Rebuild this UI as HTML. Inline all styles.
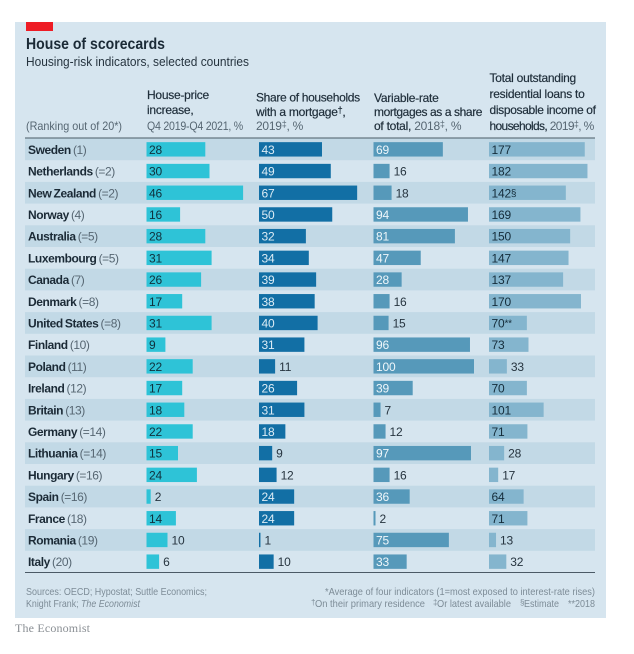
<!DOCTYPE html>
<html lang="en">
<head>
<meta charset="utf-8">
<title>House of scorecards</title>
<style>
html,body{margin:0;padding:0;background:#fff;width:634px;height:654px;overflow:hidden}
svg{display:block;font-family:"Liberation Sans",sans-serif}
.hd{font-size:12px;fill:#1f2e3a;stroke:#1f2e3a;stroke-width:.2;letter-spacing:-.25px}
.hl{font-weight:normal;fill:#566672;stroke:none}
.ft{font-size:10.500px;fill:#7d8c97}
</style>
</head>
<body>
<svg id="chart" xmlns="http://www.w3.org/2000/svg" width="634" height="654" viewBox="0 0 634 654">
  <rect x="15" y="22" width="591" height="596" fill="#d6e5ef"/>
  <rect x="26" y="22" width="27" height="9" fill="#ee1c25"/>
  <text x="26" y="49" font-size="16" font-weight="bold" fill="#1b2a36" textLength="139" lengthAdjust="spacingAndGlyphs">House of scorecards</text>
  <text x="26" y="66" font-size="13" fill="#26343f" textLength="223" lengthAdjust="spacingAndGlyphs">Housing-risk indicators, selected countries</text>

  <text x="26" y="130" font-size="12" fill="#566672" textLength="96" lengthAdjust="spacingAndGlyphs">(Ranking out of 20*)</text>

  <g class="hd">
    <text x="147" y="99">House-price</text>
    <text x="147" y="114">increase,</text>
    <text x="147" y="130" class="hl" textLength="96" lengthAdjust="spacingAndGlyphs">Q4 2019-Q4 2021, %</text>
  </g>
  <g class="hd">
    <text x="256" y="101.500" style="letter-spacing:-.33px">Share of households</text>
    <text x="256" y="116">with a mortgage<tspan font-size="9" dy="-3">†</tspan><tspan dy="3">,</tspan></text>
    <text x="256" y="130" class="hl">2019<tspan font-size="9" dy="-3">‡</tspan><tspan dy="3">, %</tspan></text>
  </g>
  <g class="hd">
    <text x="374" y="102">Variable-rate</text>
    <text x="374" y="116" style="letter-spacing:-.4px">mortgages as a share</text>
    <text x="374" y="130">of total, <tspan class="hl">2018<tspan font-size="9" dy="-3">‡</tspan><tspan dy="3">, %</tspan></tspan></text>
  </g>
  <g class="hd">
    <text x="489.500" y="82">Total outstanding</text>
    <text x="489.500" y="98">residential loans to</text>
    <text x="489.500" y="114" style="letter-spacing:-.33px">disposable income of</text>
    <text x="489.500" y="130" style="letter-spacing:-.65px">households, <tspan class="hl">2019<tspan font-size="9" dy="-3">‡</tspan><tspan dy="3">, %</tspan></tspan></text>
  </g>

  <g id="rows"></g>

  <line x1="25" x2="595" y1="138" y2="138" stroke="#4b5a66" stroke-width="1"/>
  <line x1="25" x2="595" y1="572.500" y2="572.500" stroke="#4b5a66" stroke-width="1"/>

  <g class="ft">
    <text x="26" y="595" textLength="181" lengthAdjust="spacingAndGlyphs">Sources: OECD; Hypostat; Suttle Economics;</text>
    <text x="26" y="607" textLength="114" lengthAdjust="spacingAndGlyphs">Knight Frank; <tspan font-style="italic">The Economist</tspan></text>
  </g>
  <g class="ft">
    <text x="595" y="595" text-anchor="end" textLength="270" lengthAdjust="spacingAndGlyphs">*Average of four indicators (1=most exposed to interest-rate rises)</text>
    <text x="311" y="605" font-size="8">†</text>
    <text x="315" y="607" textLength="110" lengthAdjust="spacingAndGlyphs">On their primary residence</text>
    <text x="433" y="605" font-size="8">‡</text>
    <text x="437" y="607" textLength="74" lengthAdjust="spacingAndGlyphs">Or latest available</text>
    <text x="520" y="605" font-size="8">§</text>
    <text x="524" y="607" textLength="35" lengthAdjust="spacingAndGlyphs">Estimate</text>
    <text x="568" y="607" textLength="27" lengthAdjust="spacingAndGlyphs">**2018</text>
  </g>
  <text x="15" y="632" font-family="'Liberation Serif',serif" font-size="12" fill="#8a8f94" textLength="75" lengthAdjust="spacing">The Economist</text>
</svg>
<script>
const countries = ["Sweden","Netherlands","New Zealand","Norway","Australia","Luxembourg","Canada","Denmark","United States","Finland","Poland","Ireland","Britain","Germany","Lithuania","Hungary","Spain","France","Romania","Italy"];
const ranks = ["1","=2","=2","4","=5","=5","7","=8","=8","10","11","12","13","=14","=14","=16","=16","18","19","20"];
const housePrice = [28,30,46,16,28,31,26,17,31,9,22,17,18,22,15,24,2,14,10,6];
const mortgageShare = [43,49,67,50,32,34,39,38,40,31,11,26,31,18,9,12,24,24,1,10];
const variableRate = [69,16,18,94,81,47,28,16,15,96,100,39,7,12,97,16,36,2,75,33];
const loansToIncome = [177,182,142,169,150,147,137,170,70,73,33,70,101,71,28,17,64,71,13,32];
const loanNotes = ["","","§","","","","","","**","","","","","","","","","","",""];

const NS = "http://www.w3.org/2000/svg";
const rowsGroup = document.getElementById("rows");
const rowTop = 138.5, rowHeight = 21.7, barHeight = 14.4;
const rowY = i => rowTop + i * rowHeight;
const scaleHouse = v => v * 2.1;
const scaleShare = v => v * 1.465;
const scaleVariable = v => v * 1.005;
const scaleLoans = v => v * 0.541;
const columns = [
  {key:"house-price", values:housePrice, x:146.5, scale:scaleHouse, fill:"#2ec3d7", inner:"#10303c"},
  {key:"mortgage-share", values:mortgageShare, x:259, scale:scaleShare, fill:"#126fa5", inner:"#dcecf5"},
  {key:"variable-rate", values:variableRate, x:373.5, scale:scaleVariable, fill:"#5699ba", inner:"#eef6fa"},
  {key:"loans-to-income", values:loansToIncome, x:489, scale:scaleLoans, fill:"#84b5ce", inner:"#142c3a", notes:loanNotes}
];
function make(tag, attrs, parent){
  const el = document.createElementNS(NS, tag);
  for (const k in attrs) el.setAttribute(k, attrs[k]);
  parent.appendChild(el);
  return el;
}
countries.forEach((name, i) => {
  const y = rowY(i), cy = y + rowHeight / 2;
  const row = make("g", {}, rowsGroup);
  
  
  if (i % 2 === 0) {
    const band = make("rect", {x:25, y:y, width:570, height:rowHeight, fill:"#c2d9e6"}, row);
    
    
  }
  const label = make("text", {x:28, y:cy + 4.5, "font-size":12, fill:"#1b2a36", "font-weight":"bold", style:"letter-spacing:-.42px;word-spacing:-.8px"}, row);
  
  
  label.textContent = name + " ";
  const rank = make("tspan", {"font-weight":"normal", fill:"#566672"}, label);
  rank.textContent = "(" + ranks[i] + ")";
  columns.forEach(col => {
    const v = col.values[i];
    const w = col.scale(v);
    const bar = make("rect", {x:col.x, y:cy - barHeight / 2, width:w, height:barHeight, fill:col.fill}, row);
    
    
    const digits = String(v).length;
    const inside = w >= (digits === 1 ? 15 : 24);
    const txt = make("text", {
      x: inside ? col.x + 2.5 : col.x + w + 4,
      y: cy + 4.5,
      "font-size": 12,
      style: "letter-spacing:-.2px",
      fill: inside ? col.inner : "#26343f"
    }, row);
    
    
    txt.textContent = v;
    const note = col.notes ? col.notes[i] : "";
    if (note) {
      const ts = make("tspan", {"font-size": 10, dy: -1}, txt);
      ts.textContent = note;
    }
  });
});
</script>
</body>
</html>
